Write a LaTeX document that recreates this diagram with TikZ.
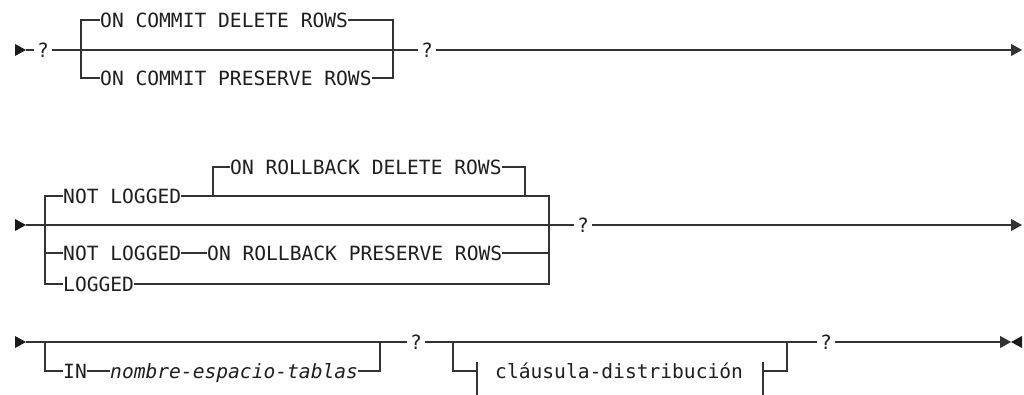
\documentclass[tikz,border=0pt]{standalone}
\usepackage{fontspec}
\usetikzlibrary{arrows.meta}
\newfontfamily\kwmono{DejaVu Sans Mono}
\definecolor{linec}{HTML}{333333}
\definecolor{txtc}{HTML}{1E1E1E}
\definecolor{tipc}{HTML}{1A1A1A}
\tikzset{
  rr/.style={line width=1.2pt, draw=linec},
  kw/.style={anchor=west, inner sep=0pt, text height=14.3pt, text depth=0pt,
             font=\kwmono\fontsize{19.6}{22}\selectfont, text=txtc},
  kwit/.style={kw, font=\kwmono\itshape\fontsize{19.6}{22}\selectfont},
  qm/.style={anchor=center, inner xsep=3pt, inner ysep=0pt, text height=14.3pt, text depth=0pt,
             font=\kwmono\fontsize{19.6}{22}\selectfont, text=txtc},
  endtip/.style={-{Triangle[length=11pt,width=12pt]}},
  starttip/.style={fill=tipc, draw=none}
}
\begin{document}
\begin{tikzpicture}[x=1pt,y=-1pt]
\useasboundingbox (0,0) rectangle (1024,395);

% ---------------- Row 1 ----------------
\fill[starttip] (15,44) -- (26,50) -- (15,56) -- cycle;
\coordinate (a1) at (26,50);
\node[qm] (q1) at (43,50) {?};
\coordinate (bl1) at (81,50);
\coordinate (br1) at (393,50);
\node[kw] (c1) at (100,20) {ON COMMIT DELETE ROWS};
\node[kw] (c2) at (100,78) {ON COMMIT PRESERVE ROWS};
\node[qm] (q2) at (427,50) {?};
\coordinate (e1) at (1022,50);

\draw[rr] (a1) -- (q1);
\draw[rr] (q1) -- (q2);
\draw[rr,endtip] (q2) -- (e1);
\draw[rr] (c1) -| (bl1) |- (c2);
\draw[rr] (c1) -| (br1) |- (c2);

% ---------------- Row 2 ----------------
\fill[starttip] (15,219) -- (26,225) -- (15,231) -- cycle;
\coordinate (a2) at (26,225);
\coordinate (bl2) at (45,225);
\coordinate (br2) at (549,225);
\node[kw] (n1) at (63,196) {NOT LOGGED};
\node[kw] (rd) at (230,167) {ON ROLLBACK DELETE ROWS};
\node[kw] (n2) at (63,253) {NOT LOGGED};
\node[kw] (rp) at (207,253) {ON ROLLBACK PRESERVE ROWS};
\node[kw] (lg) at (63,284) {LOGGED};
\node[qm] (q3) at (583,225) {?};
\coordinate (e2) at (1022,225);
\coordinate (il) at (213,196);
\coordinate (ir) at (525,196);

\draw[rr] (a2) -- (q3);
\draw[rr,endtip] (q3) -- (e2);
\draw[rr] (n1) -| (bl2) |- (lg);
\draw[rr] (n1) -| (br2) |- (lg);
\draw[rr] (n2) -- (n2 -| bl2);
\draw[rr] (n2) -- (rp);
\draw[rr] (rp) -- (rp -| br2);
\draw[rr] (il) |- (rd);
\draw[rr] (rd) -| (ir);

% ---------------- Row 3 ----------------
\fill[starttip] (15,336) -- (26,342) -- (15,348) -- cycle;
\coordinate (a3) at (26,342);
\node[qm] (q4) at (416,342) {?};
\node[qm] (q5) at (826,342) {?};
\coordinate (e3) at (1011,342);
\coordinate (bl3) at (45,342);
\coordinate (br3) at (380,342);
\node[kw] (in) at (63,371) {IN};
\node[kwit] (nt) at (110,371) {nombre-espacio-tablas};
\coordinate (cl) at (453,342);
\coordinate (cr) at (787,342);
\coordinate (t1) at (477,371);
\coordinate (t1top) at (477,362);
\coordinate (t1bot) at (477,395);
\coordinate (t2) at (763,371);
\coordinate (t2top) at (763,362);
\coordinate (t2bot) at (763,395);
\node[kw] (cd) at (495,371) {cláusula-distribución};

\draw[rr] (a3) -- (q4);
\draw[rr] (q4) -- (q5);
\draw[rr,endtip] (q5) -- (e3);
\fill[starttip] (1022,336) -- (1011,342) -- (1022,348) -- cycle;
\draw[rr] (bl3) |- (in);
\draw[rr] (in) -- (nt);
\draw[rr] (nt) -| (br3);
\draw[rr] (cl) |- (t1);
\draw[rr] (t1top) -- (t1bot);
\draw[rr] (t2top) -- (t2bot);
\draw[rr] (t2) -| (cr);
\end{tikzpicture}
\end{document}
